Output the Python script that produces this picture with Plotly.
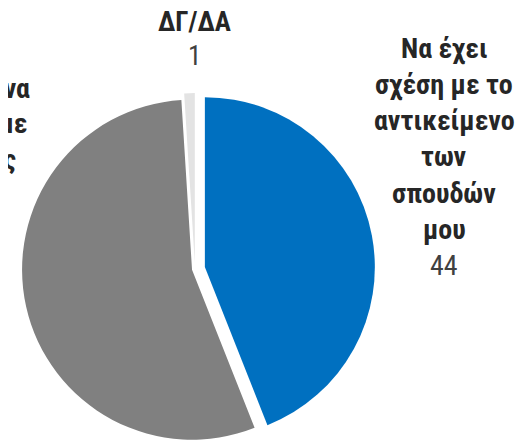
import plotly.graph_objects as go

# Slices (clockwise from 12 o'clock)
labels = ["Να έχει σχέση με το αντικείμενο των σπουδών μου",
          "Όχι απαραίτητα να έχει σχέση με τις σπουδές μου",
          "ΔΓ/ΔΑ"]
values = [44, 55, 1]
colors = ["#0070C0", "#808080", "#E3E3E3"]
pulls = [0.059, 0.018, 0.035]

# Label text, one entry per line
right_lines = ["Να έχει", "σχέση με το", "αντικείμενο", "των", "σπουδών", "μου"]
left_lines = ["Όχι", "απαραίτητα να", "έχει σχέση με", "τις σπουδές", "μου"]
top_lines = ["ΔΓ/ΔΑ"]

W, H = 524, 447
OFF = 8  # page body margin, positions below are in screen pixels
FONT = "Liberation Sans Narrow, Roboto Condensed, Arial Narrow, sans-serif"

fig = go.Figure(go.Pie(
    labels=labels,
    values=values,
    marker=dict(colors=colors, line=dict(width=0)),
    pull=pulls,
    sort=False,
    direction="clockwise",
    rotation=0,
    textinfo="none",
    hoverinfo="label+value",
    domain=dict(x=[0.0134, 0.7004], y=[0.0134, 0.8188]),
))


def add_label(lines, number, cx, top_y, step, size=28):
    # stacked lines, bold text, then the value in regular weight
    for i, line in enumerate(lines + [str(number)]):
        bold = i < len(lines)
        fig.add_annotation(
            x=(cx - OFF) / W, y=1 - (top_y + i * step - OFF) / H,
            xref="paper", yref="paper",
            text=f"<b>{line}</b>" if bold else line,
            showarrow=False, xanchor="center", yanchor="middle",
            font=dict(family=FONT, size=size, color="#262626" if bold else "#404040"),
        )


add_label(right_lines, values[0], 444, 48, 36.3)
add_label(left_lines, values[1], -53, 54, 35)
add_label(top_lines, values[2], 194, 22, 33.5, size=27)

fig.update_layout(
    width=W, height=H,
    margin=dict(l=0, r=0, t=0, b=0),
    showlegend=False,
    paper_bgcolor="white",
    plot_bgcolor="white",
)

fig.write_html("out.html")
